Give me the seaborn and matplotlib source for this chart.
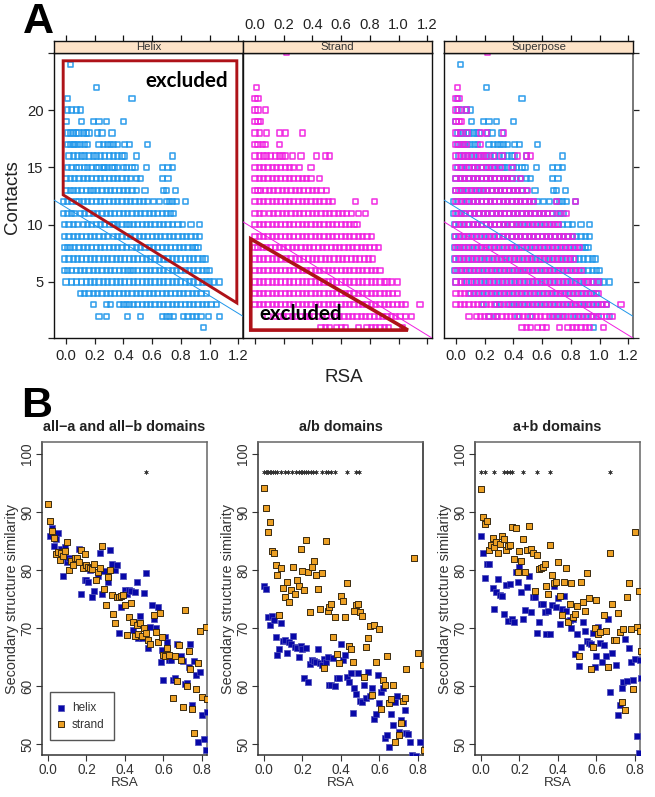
import pandas as pd
import seaborn as sns
import matplotlib.pyplot as plt
from matplotlib.patches import Polygon

# panel A: RSA (in percent) of each residue, one list per contact count
helix_rows = {
    24: [3],
    22: [21],
    21: [1, 46],
    20: [1, 4, 7, 10],
    19: [0, 11, 19, 23, 28, 40],
    18: [1, 3, 5, 7, 9, 12, 14, 16, 22, 25, 32],
    17: [1, 3, 5, 6, 8, 10, 13, 15, 23, 26, 29, 31, 33, 36, 41, 44, 57],
    16: [2, 5, 8, 11, 13, 16, 19, 21, 24, 27, 30, 33, 36, 39, 41, 49, 74],
    15: [1, 4, 7, 9, 13, 15, 18, 21, 23, 26, 27, 29, 32, 34, 36, 40, 42, 46, 48, 56, 67, 71, 74],
    14: [0, 3, 6, 9, 12, 15, 18, 21, 24, 27, 30, 33, 36, 39, 42, 45, 49, 52, 67, 71],
    13: [0, 3, 5, 8, 11, 14, 17, 19, 22, 25, 28, 31, 34, 37, 40, 43, 46, 49, 55, 68, 70, 76],
    12: [-2, 1, 4, 7, 9, 12, 15, 18, 21, 24, 27, 30, 33, 36, 39, 42, 45, 48, 51, 54, 57, 61, 65, 70, 72, 74, 77, 83],
    11: [-2, 1, 4, 6, 10, 13, 16, 19, 22, 25, 28, 31, 34, 37, 40, 43, 46, 49, 52, 55, 58, 61, 64, 67, 70, 73, 75],
    10: [-1, 2, 5, 8, 12, 15, 18, 21, 24, 27, 30, 33, 34, 36, 39, 42, 44, 47, 50, 53, 56, 59, 62, 65, 68, 71, 74, 78, 81, 87, 93],
    9: [-1, 2, 5, 8, 11, 14, 17, 20, 23, 26, 29, 33, 36, 39, 42, 45, 48, 51, 54, 57, 60, 63, 66, 69, 72, 75, 78, 81, 84, 87, 90, 93],
    8: [-1, 1, 3, 6, 9, 12, 15, 18, 21, 24, 27, 30, 33, 36, 39, 42, 46, 49, 52, 55, 58, 61, 64, 67, 70, 73, 76, 79, 82, 85, 88, 90, 92],
    7: [-1, 2, 5, 8, 11, 14, 17, 20, 23, 26, 29, 32, 35, 38, 41, 44, 47, 50, 53, 56, 59, 62, 65, 68, 71, 74, 77, 80, 83, 86, 89, 92, 95, 97],
    6: [-1, 1, 4, 7, 10, 13, 16, 19, 22, 25, 28, 31, 34, 37, 40, 43, 45, 47, 50, 53, 56, 59, 62, 65, 68, 71, 74, 77, 80, 83, 86, 89, 92, 95, 98, 100],
    5: [0, 4, 7, 11, 14, 17, 20, 23, 26, 29, 32, 35, 38, 41, 44, 47, 50, 53, 56, 59, 62, 65, 68, 71, 74, 77, 80, 83, 86, 89, 92, 95, 98, 100, 103, 107],
    4: [10, 13, 16, 19, 22, 25, 28, 31, 34, 37, 40, 43, 46, 49, 52, 55, 58, 61, 64, 67, 70, 73, 76, 79, 82, 85, 88, 91, 94, 98],
    3: [19, 28, 31, 37, 40, 42, 44, 47, 50, 53, 56, 59, 62, 65, 68, 71, 74, 77, 80, 83, 86, 89, 92, 95, 98, 101, 105],
    2: [23, 28, 43, 52, 67, 70, 72, 75, 82, 85, 88, 91, 94, 99, 107],
    1: [96],
}
strand_rows = {
    25: [22],
    22: [1],
    21: [0, 2],
    20: [0, 2, 7],
    19: [0, 2, 4],
    18: [0, 3, 8, 17, 21, 33],
    17: [0, 2, 5, 7, 17],
    16: [0, 3, 6, 8, 11, 14, 17, 19, 21, 26, 32, 43, 49, 52],
    15: [0, 3, 6, 9, 12, 15, 18, 21, 24, 27, 31, 39],
    14: [0, 3, 6, 9, 12, 15, 18, 21, 24, 27, 30, 33, 36, 39, 45],
    13: [0, 2, 4, 7, 10, 13, 16, 19, 22, 25, 28, 31, 34, 37, 40, 43, 46, 50],
    12: [0, 3, 6, 9, 12, 15, 18, 21, 24, 27, 30, 33, 36, 39, 42, 45, 48, 51, 54, 70, 83],
    11: [0, 3, 6, 10, 13, 16, 19, 22, 25, 28, 31, 34, 37, 40, 43, 46, 49, 52, 55, 58, 61, 64, 67, 72, 77],
    10: [0, 3, 6, 9, 12, 15, 18, 21, 24, 27, 30, 33, 36, 39, 42, 45, 48, 51, 54, 57, 60, 63, 66, 69, 71],
    9: [0, 3, 6, 9, 12, 15, 18, 21, 24, 27, 30, 33, 36, 39, 42, 45, 48, 51, 54, 57, 60, 63, 66, 69, 72, 75, 78, 81],
    8: [0, 2, 5, 8, 11, 14, 17, 20, 23, 26, 29, 32, 35, 38, 41, 44, 47, 50, 53, 56, 59, 62, 65, 68, 71, 74, 77, 80, 83, 86],
    7: [0, 3, 6, 9, 12, 15, 18, 22, 25, 28, 31, 34, 37, 40, 43, 46, 49, 52, 55, 58, 61, 64, 67, 70, 73, 76, 79, 82],
    6: [0, 3, 6, 9, 12, 15, 18, 21, 24, 27, 30, 33, 36, 39, 42, 45, 48, 51, 54, 57, 60, 63, 66, 69, 72, 75, 78, 81, 84, 87],
    5: [0, 3, 6, 9, 12, 15, 18, 21, 24, 27, 30, 33, 36, 39, 42, 45, 48, 51, 54, 57, 60, 63, 66, 69, 72, 75, 78, 81, 84, 87, 90, 92, 95, 99],
    4: [0, 3, 6, 9, 12, 15, 18, 21, 24, 27, 30, 33, 36, 39, 42, 45, 48, 51, 54, 57, 60, 63, 66, 69, 72, 75, 78, 81, 84, 87, 90, 93, 96, 99],
    3: [0, 3, 6, 9, 12, 15, 18, 21, 24, 27, 30, 33, 36, 39, 42, 45, 48, 51, 54, 57, 60, 63, 66, 69, 72, 75, 78, 81, 84, 87, 90, 93, 96, 99, 102, 105, 115],
    2: [9, 14, 17, 20, 23, 26, 29, 32, 35, 38, 41, 44, 47, 50, 53, 56, 59, 62, 65, 68, 71, 74, 77, 80, 83, 86, 89, 92, 95, 98, 101, 105, 109],
    1: [46, 49, 52, 57, 60, 63, 72, 78, 81, 84, 87, 90, 93, 103],
}
facet_names = ['Helix', 'Strand', 'Superpose']
cutoff_helix = (11.5, -7.7)
cutoff_strand = (9.6, -7.7)
excluded_helix_x = [-0.02, 1.19, 1.19, -0.02]
excluded_helix_y = [24.3, 24.3, 3.17, 12.6]
excluded_strand_x = [-0.03, -0.03, 1.065]
excluded_strand_y = [8.76, 0.8, 0.8]

# panel B: (RSA, similarity) per exposure bin
a1_helix_x = [.01, .02, .03, .04, .05, .06, .07, .08, .09, .09, .10, .11, .12, .16, .17, .18, .19, .20, .21, .22, .23, .24, .26, .27, .28, .29, .31, .32, .33, .35, .36, .37, .38, .39, .40, .41, .42, .43, .44, .45, .46, .47, .48, .49, .50, .51, .52, .53, .54, .55, .56, .57, .59, .585, .60, .61, .62, .63, .64, .65, .66, .67, .69, .70, .71, .72, .73, .74, .75, .76, .77, .78, .79, .80, .81, .82, .825]
a1_helix_y = [85.8, 87.2, 84.2, 85.3, 86.4, 83.0, 83.6, 79.0, 83.0, 83.9, 81.3, 82.0, 81.8, 83.7, 75.9, 80.8, 78.3, 78.2, 77.9, 80.0, 75.3, 76.4, 79.0, 83.0, 75.8, 79.8, 78.0, 83.4, 81.0, 80.0, 80.8, 69.2, 73.6, 78.9, 76.5, 75.8, 76.5, 76.4, 69.6, 76.2, 77.9, 68.2, 72.0, 68.3, 76.0, 79.5, 66.5, 70.2, 73.9, 71.5, 70.0, 73.7, 66.2, 64.2, 61.0, 68.4, 67.5, 64.5, 64.5, 61.0, 61.3, 67.2, 65.1, 64.3, 60.3, 60.5, 63.2, 67.2, 56.8, 64.3, 61.9, 50.4, 62.4, 55.0, 50.9, 49.0, 55.5]
a1_strand_x = [0, .01, .02, .03, .04, .05, .06, .07, .08, .09, .10, .11, .12, .13, .14, .15, .16, .17, .18, .19, .20, .21, .22, .23, .24, .25, .26, .27, .28, .29, .30, .31, .32, .33, .34, .35, .36, .37, .38, .39, .40, .41, .42, .43, .44, .45, .46, .47, .48, .49, .50, .51, .52, .53, .55, .56, .57, .58, .59, .60, .61, .62, .63, .65, .66, .67, .68, .69, .70, .71, .72, .73, .74, .75, .76, .77, .78, .79, .80, .82, .825]
a1_strand_y = [91.4, 88.5, 86.7, 85.5, 82.8, 83.1, 81.8, 83.0, 82.4, 83.2, 84.9, 80.0, 81.5, 80.9, 82.0, 82.1, 81.3, 83.4, 80.3, 82.8, 80.9, 80.6, 80.3, 80.1, 81.1, 78.2, 79.6, 80.3, 84.1, 76.7, 74.0, 78.8, 80.0, 75.7, 72.4, 70.9, 75.4, 75.4, 75.5, 75.7, 74.0, 68.8, 71.9, 74.3, 71.1, 68.7, 70.5, 69.0, 70.9, 68.6, 70.0, 69.1, 68.0, 67.2, 72.2, 69.3, 67.6, 72.6, 68.4, 65.4, 65.1, 66.6, 65.3, 58.0, 65.2, 60.8, 67.1, 64.4, 56.4, 73.1, 60.0, 66.1, 62.9, 56.0, 51.9, 59.5, 63.9, 69.4, 58.1, 70.2, 57.7]
a1_stars = [.51]

ab_helix_x = [0, .01, .02, .03, .04, .05, .06, .07, .08, .09, .10, .11, .12, .13, .14, .15, .16, .17, .18, .19, .20, .21, .22, .23, .24, .25, .26, .27, .28, .29, .30, .31, .32, .33, .34, .35, .36, .37, .38, .39, .40, .41, .42, .43, .44, .45, .46, .47, .48, .49, .50, .51, .52, .53, .54, .55, .56, .57, .58, .59, .60, .61, .62, .63, .64, .65, .66, .67, .68, .69, .70, .71, .72, .73, .74, .75, .76, .77, .79, .81]
ab_helix_y = [77.2, 76.7, 71.9, 70.5, 72.1, 71.3, 68.4, 65.4, 66.4, 70.9, 67.7, 67.9, 65.7, 67.6, 67.2, 68.6, 66.8, 66.6, 65.0, 66.9, 66.3, 61.4, 66.6, 60.7, 63.8, 64.4, 64.3, 64.2, 66.3, 64.0, 63.7, 64.6, 64.2, 65.0, 60.2, 60.2, 64.9, 60.0, 61.3, 61.3, 67.3, 64.5, 65.3, 61.6, 60.7, 62.2, 55.4, 59.7, 58.7, 62.2, 57.4, 57.2, 60.2, 57.9, 62.4, 58.2, 59.6, 54.3, 55.2, 61.9, 57.0, 59.0, 59.7, 51.1, 51.6, 49.4, 55.1, 53.2, 57.2, 58.2, 52.1, 54.2, 53.7, 55.8, 51.9, 51.8, 50.3, 48.1, 47.9, 50.4]
ab_strand_x = [0, .01, .02, .03, .04, .05, .06, .07, .08, .09, .10, .11, .12, .13, .14, .15, .16, .17, .18, .19, .20, .21, .22, .23, .24, .25, .26, .27, .28, .29, .30, .31, .32, .33, .34, .35, .36, .37, .38, .39, .40, .41, .42, .43, .44, .45, .46, .47, .48, .49, .50, .51, .52, .53, .54, .55, .56, .57, .58, .60, .61, .62, .63, .64, .65, .66, .67, .68, .70, .71, .72, .73, .74, .78, .80, .825, .83]
ab_strand_y = [94.2, 90.7, 86.5, 88.2, 83.2, 83.0, 80.9, 79.2, 72.3, 80.3, 76.9, 75.3, 77.9, 74.5, 76.5, 80.5, 75.8, 78.2, 77.3, 83.7, 79.8, 76.6, 85.2, 79.7, 72.7, 80.5, 81.5, 79.1, 76.8, 73.3, 79.4, 63.1, 85.0, 72.9, 73.7, 74.2, 68.5, 71.9, 65.6, 64.0, 75.6, 74.6, 71.9, 77.8, 66.9, 66.4, 64.1, 72.9, 74.0, 74.2, 72.8, 72.1, 61.6, 66.8, 68.2, 70.4, 58.4, 70.5, 64.2, 69.9, 56.0, 61.1, 60.1, 65.2, 57.0, 57.8, 60.2, 50.3, 51.6, 53.6, 57.4, 57.9, 63.0, 82.0, 65.7, 63.7, 49.0]
ab_stars = [0, .01, .015, .02, .03, .035, .045, .055, .07, .09, .11, .125, .145, .165, .18, .19, .2, .21, .22, .23, .245, .255, .27, .3, .32, .335, .35, .37, .43, .48, .495]

apb_helix_x = [0, .01, .02, .03, .04, .06, .07, .08, .09, .10, .11, .12, .13, .14, .15, .16, .17, .18, .19, .20, .21, .22, .23, .24, .25, .26, .27, .28, .29, .30, .31, .32, .33, .34, .35, .36, .37, .38, .39, .40, .41, .42, .43, .44, .45, .46, .47, .48, .49, .50, .51, .52, .53, .54, .55, .56, .57, .58, .59, .60, .61, .62, .63, .64, .65, .66, .67, .68, .70, .71, .72, .73, .74, .75, .76, .77, .78, .79, .80, .81, .82, .825, .83]
apb_helix_y = [85.8, 82.9, 78.7, 81.1, 81.1, 76.9, 73.3, 76.2, 78.4, 75.7, 75.6, 72.4, 77.4, 71.2, 77.5, 71.5, 71.1, 79.6, 78.0, 80.6, 76.2, 71.5, 73.1, 77.1, 79.0, 72.8, 75.4, 75.3, 69.2, 71.1, 74.2, 74.1, 72.7, 68.9, 72.9, 69.0, 73.9, 77.3, 73.6, 75.2, 70.7, 73.2, 75.5, 73.0, 71.2, 71.4, 70.0, 71.5, 65.6, 69.0, 63.5, 66.7, 71.1, 69.4, 67.8, 67.4, 67.3, 69.1, 63.2, 65.2, 70.1, 67.4, 64.2, 67.0, 65.2, 71.5, 59.0, 65.7, 63.7, 55.0, 56.8, 59.6, 60.7, 68.1, 60.9, 66.5, 64.1, 61.0, 64.7, 51.3, 48.5, 64.4, 61.3]
apb_strand_x = [0, .01, .02, .03, .04, .05, .06, .07, .08, .09, .10, .11, .12, .13, .14, .15, .16, .17, .18, .19, .20, .21, .22, .23, .24, .25, .26, .27, .28, .29, .30, .31, .32, .33, .34, .35, .36, .37, .38, .39, .40, .41, .42, .43, .44, .45, .46, .47, .48, .49, .50, .51, .52, .53, .54, .55, .56, .57, .58, .59, .60, .61, .62, .64, .65, .66, .67, .68, .69, .70, .71, .72, .73, .74, .75, .76, .77, .78, .79, .80, .81, .82, .825, .83]
apb_strand_y = [94.0, 89.2, 88.0, 88.5, 83.5, 84.3, 85.6, 84.0, 84.9, 83.0, 84.5, 85.9, 85.4, 83.5, 84.1, 84.3, 87.4, 81.9, 87.3, 79.7, 83.3, 81.6, 85.4, 79.7, 83.5, 87.6, 83.6, 83.0, 76.3, 82.5, 80.1, 80.3, 80.6, 81.1, 77.3, 75.8, 84.3, 79.2, 77.8, 77.9, 81.3, 75.5, 72.3, 77.9, 80.3, 71.0, 74.1, 77.8, 71.9, 72.4, 73.8, 65.1, 77.9, 74.5, 73.0, 79.4, 75.1, 62.9, 66.7, 70.0, 74.9, 68.9, 69.3, 72.2, 69.4, 63.2, 83.0, 74.2, 67.9, 68.0, 72.6, 69.3, 57.2, 69.8, 55.9, 75.4, 77.8, 69.8, 59.5, 86.6, 70.2, 76.4, 69.5, 66.0]
apb_stars = [0, .02, .07, .12, .135, .15, .16, .22, .29, .36, .67]

domain_titles = ['all\u2212a and all\u2212b domains', 'a/b domains', 'a+b domains']

W, H = 655, 797
BLUE = '#1f96ea'
MAGENTA = '#f01ee0'
RED = '#ae1218'
NAVY = '#0808a8'
ORANGE = '#eca024'

sns.set_style('white')
plt.rcParams['font.family'] = ['Liberation Sans', 'DejaVu Sans']


def px_axes(fig, left, top, right, bottom):
    return fig.add_axes([left / W, 1 - bottom / H, (right - left) / W, (bottom - top) / H])


def rows_to_frame(rows):
    contacts = [k for k, v in rows.items() for _ in v]
    rsa = [r / 100 for v in rows.values() for r in v]
    return pd.DataFrame({'rsa': rsa, 'contacts': contacts})


def draw_rows(ax, df, color):
    sns.scatterplot(data=df, x='rsa', y='contacts', marker='s', s=14, facecolor='none',
                    edgecolor=color, linewidth=1.15, alpha=0.9, ax=ax, legend=False)


def draw_cutoff(ax, coef, color):
    ax.axline((0, coef[0]), slope=coef[1], color=color, lw=0.7, zorder=3)


fig = plt.figure(figsize=(W / 100, H / 100), dpi=100)
helix_df = rows_to_frame(helix_rows)
strand_df = rows_to_frame(strand_rows)

x_ticks = [0, 0.2, 0.4, 0.6, 0.8, 1.0, 1.2]
y_ticks = [5, 10, 15, 20]
a_xlim = (-0.084, 1.233)
a_ylim = (0.11, 24.98)
a_boxes = [(54, 243), (243, 432), (444, 633)]

for i, (left, right) in enumerate(a_boxes):
    ax = px_axes(fig, left, 53, right, 338)
    strip = px_axes(fig, left, 41, right, 53)

    if i in (0, 2):
        draw_rows(ax, helix_df, BLUE)
        draw_cutoff(ax, cutoff_helix, BLUE)
    if i in (1, 2):
        draw_rows(ax, strand_df, MAGENTA)
        draw_cutoff(ax, cutoff_strand, MAGENTA)

    ax.set_xlim(a_xlim)
    ax.set_ylim(a_ylim)
    ax.set_xlabel('')
    ax.set_ylabel('')
    ax.set_xticks(x_ticks)
    ax.set_yticks([a_ylim[0]] + y_ticks + [a_ylim[1]])
    ax.tick_params(axis='x', bottom=True, length=4.5, width=0.9, color='#222222', labelsize=10.6,
                   labelbottom=i != 1, pad=3.5, labelcolor='#222222')
    ax.tick_params(axis='y', left=i == 0, right=i == 2, length=4.5, width=0.9, color='#222222',
                   labelsize=10.6, labelleft=i == 0, labelright=False, pad=3, labelcolor='#222222')
    if i == 0:
        ax.set_yticklabels([''] + [str(t) for t in y_ticks] + [''])
    for spine in ax.spines.values():
        spine.set_visible(True)
        spine.set_color('#111111')
        spine.set_linewidth(1.0)
    if i == 2:
        ax.spines['right'].set_color('#777777')
        ax.spines['right'].set_linewidth(1.4)
    if i == 0:
        ax.spines['right'].set_color('#555555')
        ax.spines['right'].set_linewidth(1.4)

    strip.set_facecolor('#fde3c8')
    strip.set_xlim(a_xlim)
    strip.set_ylim(0, 1)
    strip.set_xticks(x_ticks)
    strip.set_yticks([])
    strip.xaxis.set_ticks_position('top')
    strip.tick_params(axis='x', length=4.5, width=0.9, color='#111111',
                      labeltop=i == 1, labelsize=10.6, pad=2, labelcolor='#222222')
    for spine in strip.spines.values():
        spine.set_visible(True)
        spine.set_color('#111111')
        spine.set_linewidth(1.0)
    strip.text(0.5, 0.47, facet_names[i], transform=strip.transAxes, ha='center', va='center',
               fontsize=8.2, color='#333333')

    if i == 0:
        ax.add_patch(Polygon(list(zip(excluded_helix_x, excluded_helix_y)), closed=True, fill=False,
                             edgecolor=RED, lw=2.1, joinstyle='miter', zorder=5))
        ax.text(0.84, 22.55, 'excluded', fontsize=14.8, fontweight='bold', family='Lato',
                color='black', ha='center', va='center', zorder=6)
    if i == 1:
        ax.add_patch(Polygon(list(zip(excluded_strand_x, excluded_strand_y)), closed=True, fill=False,
                             edgecolor=RED, lw=2.6, joinstyle='miter', zorder=5))
        ax.text(0.32, 2.2, 'excluded', fontsize=14.8, fontweight='bold', family='Lato',
                color='black', ha='center', va='center', zorder=6)

fig.text(12 / W, 1 - 197 / H, 'Contacts', rotation=90, ha='center', va='center', fontsize=13.5, color='#222222')
fig.text(344 / W, 1 - 377 / H, 'RSA', ha='center', va='center', fontsize=13.5, color='#222222')
fig.text(23 / W, 1 - 33 / H, 'A', fontsize=31, fontweight='bold', ha='left', va='baseline', color='black')
fig.text(21 / W, 1 - 417 / H, 'B', fontsize=31, fontweight='bold', ha='left', va='baseline', color='black')

b_panels = [
    (42, 207, a1_helix_x, a1_helix_y, a1_strand_x, a1_strand_y, a1_stars),
    (258, 423, ab_helix_x, ab_helix_y, ab_strand_x, ab_strand_y, ab_stars),
    (475, 640, apb_helix_x, apb_helix_y, apb_strand_x, apb_strand_y, apb_stars),
]

for i, (left, right, hx, hy, sx, sy, stars) in enumerate(b_panels):
    ax = px_axes(fig, left, 442, right, 755)
    sns.scatterplot(x=hx, y=hy, marker='s', s=22, color=NAVY, edgecolor='#4a4ab8', linewidth=0.5,
                    label='helix', ax=ax, legend=False, zorder=3)
    sns.scatterplot(x=sx, y=sy, marker='s', s=22, color=ORANGE, edgecolor='#3a2a10', linewidth=0.7,
                    label='strand', ax=ax, legend=False, zorder=4)
    sns.scatterplot(x=stars, y=[96.9] * len(stars), marker=(6, 2, 0), s=9, color='#333333',
                    edgecolor='#333333', linewidth=0.4, ax=ax, legend=False, zorder=4)

    ax.set_xlim(-0.031, 0.826)
    ax.set_ylim(48.1, 102.07)
    ax.set_xticks([0, 0.2, 0.4, 0.6, 0.8])
    ax.set_yticks([50, 60, 70, 80, 90, 100])
    ax.set_yticklabels(['50', '60', '70', '80', '90', '100'], rotation=90, va='center')
    ax.tick_params(axis='both', left=True, bottom=True, length=4, width=0.8, color='#333333',
                   labelsize=9.8, pad=1.5, labelcolor='#333333')
    ax.set_xlabel('RSA', fontsize=9.7, color='#333333', labelpad=0.5)
    ax.set_ylabel('Secondary structure similarity', fontsize=10.4, color='#333333', labelpad=0.8)
    for name, spine in ax.spines.items():
        spine.set_visible(True)
        spine.set_linewidth(1.1)
        spine.set_color('#666666' if name in ('top', 'right') else '#333333')
    if i == 1:
        ax.spines['right'].set_color('#222222')
    ax.set_title(domain_titles[i], fontsize=10.4, fontweight='bold', color='#222222', pad=8)

    if i == 0:
        handles = ax.collections[:2]
        ax.legend(handles, ['helix', 'strand'], loc='lower left', bbox_to_anchor=(8 / 165, 15 / 313),
                  borderaxespad=0, frameon=True, fancybox=False, edgecolor='#555555', framealpha=1,
                  fontsize=8.5, labelcolor='#333333', handlelength=0.3, handletextpad=0.77,
                  labelspacing=0.4, borderpad=0.8, markerscale=1.0)

fig.savefig('out.png', dpi=100)
